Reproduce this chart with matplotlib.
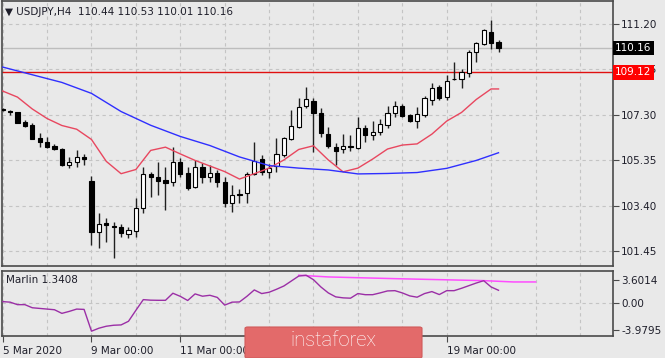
import matplotlib
matplotlib.use("Agg")
import matplotlib.pyplot as plt
from matplotlib.patches import FancyBboxPatch
import matplotlib.transforms as mtrans

# H4 candles, 5 Mar 2020 00:00 onwards
opens = [107.55, 107.48, 107.41, 106.98, 106.86, 106.32, 106.14, 105.97, 105.82, 105.14,
         105.29, 105.50, 104.46, 102.28, 102.67, 102.52, 102.49, 102.18, 102.31, 103.28,
         104.74, 104.62, 104.50, 104.40, 105.29, 104.81, 104.19, 105.05, 104.62, 104.79,
         104.43, 103.50, 103.88, 103.93, 104.74, 105.40, 104.86, 105.11, 105.57, 106.25,
         106.79, 107.68, 107.89, 107.36, 106.46, 105.93, 105.83, 105.96, 105.86, 106.72,
         106.43, 106.57, 106.86, 107.36, 107.69, 107.29, 107.05, 107.29, 107.94, 108.48,
         108.08, 108.85, 108.84, 109.11, 109.98, 110.34, 110.87, 110.44]
highs = [107.60, 107.51, 107.43, 107.08, 106.93, 106.52, 106.36, 106.03, 105.86, 105.49,
         105.79, 105.60, 104.67, 103.07, 102.87, 102.70, 102.60, 102.49, 103.71, 105.07,
         104.86, 105.26, 105.05, 105.93, 105.43, 105.07, 105.36, 105.22, 105.14, 104.93,
         104.64, 104.28, 104.11, 104.86, 106.14, 105.57, 105.17, 106.29, 106.36, 107.51,
         108.01, 108.51, 108.01, 107.58, 106.79, 106.08, 106.46, 106.43, 107.22, 106.86,
         107.03, 107.12, 107.69, 107.89, 107.75, 107.33, 107.65, 108.11, 108.65, 108.58,
         109.01, 109.57, 109.25, 110.08, 110.44, 110.99, 111.37, 110.53]
lows = [107.46, 107.29, 106.94, 106.79, 106.25, 105.93, 105.86, 105.79, 105.11, 105.00,
        105.07, 105.14, 101.71, 101.59, 101.85, 101.14, 102.06, 101.99, 102.04, 103.07,
        103.78, 103.86, 103.21, 104.24, 104.64, 104.07, 104.14, 104.36, 104.43, 104.21,
        103.33, 103.14, 103.50, 103.50, 104.71, 104.71, 104.57, 104.86, 105.50, 106.22,
        106.72, 107.58, 105.72, 106.36, 105.86, 105.14, 105.65, 105.75, 105.83, 106.14,
        106.22, 106.43, 106.72, 107.22, 107.22, 106.98, 106.72, 107.22, 107.72, 107.94,
        107.94, 108.80, 108.44, 108.94, 109.58, 110.30, 110.11, 110.01]
closes = [107.52, 107.43, 106.96, 106.83, 106.27, 106.14, 105.93, 105.83, 105.14, 105.29,
          105.50, 105.40, 102.28, 102.60, 102.57, 102.47, 102.21, 102.35, 103.28, 104.74,
          104.62, 104.47, 104.36, 105.29, 104.74, 104.14, 105.05, 104.62, 104.79, 104.43,
          103.50, 103.86, 103.85, 104.74, 105.32, 104.86, 105.03, 105.60, 106.29, 106.83,
          107.65, 107.97, 107.36, 106.51, 105.96, 105.75, 105.96, 105.92, 106.72, 106.43,
          106.55, 106.89, 107.39, 107.68, 107.26, 107.03, 107.33, 108.01, 108.44, 108.03,
          108.76, 108.82, 109.12, 110.01, 110.37, 110.94, 110.40, 110.16]

# moving averages
red_ma_idx = list(range(0, 67, 2)) + [67]
red_ma = [108.32, 108.06, 107.55, 107.14, 106.84, 106.68, 106.24, 105.30, 104.77, 104.95,
          105.77, 105.91, 105.62, 105.34, 105.10, 104.86, 104.54, 104.77, 105.01, 105.36,
          105.81, 105.97, 105.36, 104.85, 105.01, 105.40, 105.83, 106.00, 106.05, 106.47,
          107.03, 107.40, 107.96, 108.41, 108.41]
blue_ma_idx = list(range(0, 65, 4)) + [67]
blue_ma = [109.35, 109.02, 108.69, 108.22, 107.44, 106.85, 106.37, 105.98, 105.49, 105.12,
           105.01, 104.93, 104.76, 104.78, 104.82, 105.00, 105.34, 105.67]

# Marlin oscillator
marlin = [0.28, 0.2, -0.18, -0.18, -0.65, -0.75, -0.85, -0.95, -1.5, -1.2,
          -0.85, -0.9, -4.2, -3.75, -3.45, -3.3, -3.25, -2.7, -1.04, 0.58,
          0.5, 0.48, 0.48, 1.55, 1.08, 0.45, 1.45, 1.1, 1.24, 0.92,
          -0.25, 0.2, 0.23, 1.08, 2.05, 1.5, 1.7, 2.15, 2.65, 3.4,
          4.15, 4.28, 3.6, 2.5, 1.6, 1.0, 0.85, 0.8, 1.5, 1.33,
          1.33, 1.6, 1.9, 1.94, 1.6, 1.15, 0.95, 1.5, 1.8, 1.35,
          1.94, 1.94, 2.3, 2.7, 3.1, 3.45, 2.5, 2.0]
signal_idx = [40, 44, 53, 59, 65, 69, 72]
signal = [4.28, 4.02, 3.76, 3.61, 3.46, 3.26, 3.26]

price_ticks = [111.20, 109.25, 107.30, 105.35, 103.40, 101.45]
osc_ticks = [3.6014, 0.00, -3.9795]
osc_labels = ["3.6014", "0.00", "-3.9795"]
date_idx = [0, 12, 24, 36, 48, 60]
# 13 Mar and 17 Mar labels sit under the watermark in the original
date_labels = ["5 Mar 2020", "9 Mar 00:00", "11 Mar 00:00", "", "", "19 Mar 00:00"]
last_price = 110.16
level = 109.12

W, H = 665, 358
BG = "#e9e9e9"
FRAME = "#4a4a4a"
TXT = "#1e1e2a"
GRID = "#c4c4c4"
plt.rcParams["font.family"] = ["DejaVu Sans"]


def box(x0, y0, x1, y1):
    return [x0 / W, 1 - y1 / H, (x1 - x0) / W, (y1 - y0) / H]


fig = plt.figure(figsize=(W / 100, H / 100), dpi=100, facecolor=BG)
ax = fig.add_axes(box(2.3, 1, 612.7, 266))
ax2 = fig.add_axes(box(2.3, 271, 612.7, 336), sharex=ax)

for a in (ax, ax2):
    a.set_facecolor(BG)
    for s in a.spines.values():
        s.set_color(FRAME)
        s.set_linewidth(1.2)
    for g in range(0, 84, 6):
        a.axvline(g, color=GRID, lw=0.8, ls=(0, (3, 3)), zorder=0)

# candles
n = len(opens)
idx = list(range(n))
ax.vlines(idx, lows, highs, color="#202020", lw=1, zorder=2)
bottoms = [min(o, c) for o, c in zip(opens, closes)]
heights = [max(abs(c - o), 0.015) for o, c in zip(opens, closes)]
colors = ["white" if c >= o else "black" for o, c in zip(opens, closes)]
ax.bar(idx, heights, bottom=bottoms, width=0.58, color=colors,
       edgecolor="black", linewidth=0.8, zorder=3)

ax.plot(red_ma_idx, red_ma, color="#e8475f", lw=1.0, zorder=4)
ax.plot(blue_ma_idx, blue_ma, color="#2f2fff", lw=1.0, zorder=4)

ax.axhline(last_price, color="#bdbdbd", lw=1, zorder=1)
ax.axhline(level, color="#e01010", lw=1, zorder=1)
for p in price_ticks:
    ax.axhline(p, color=GRID, lw=0.8, ls=(0, (3, 3)), zorder=0)

ax.set_xlim(-0.05, 82.43)
ax.set_ylim(100.805, 112.188)
ax.yaxis.tick_right()
ax.set_yticks(price_ticks)
ax.set_yticklabels([f"{p:.2f}" for p in price_ticks])
ax.tick_params(axis="y", direction="out", length=4, width=0.8, color=FRAME,
               labelsize=7.5, labelcolor=TXT, pad=2)
ax.tick_params(axis="x", bottom=False, labelbottom=False)

blend = mtrans.blended_transform_factory(ax.transAxes, ax.transData)
ax.text(1.004, last_price, "110.16", transform=blend, ha="left", va="center",
        fontsize=7.5, color="white", zorder=6,
        bbox=dict(boxstyle="square,pad=0.2", fc="black", ec="none"))
ax.text(1.004, level, "109.12", transform=blend, ha="left", va="center",
        fontsize=7.5, color="white", zorder=6,
        bbox=dict(boxstyle="square,pad=0.2", fc="#ff0000", ec="none"))

# oscillator panel
ax2.axhline(0, color=GRID, lw=0.8, ls=(0, (3, 3)), zorder=0)
ax2.plot(idx, marlin, color="#9b2fa6", lw=1.0, zorder=3)
ax2.plot(signal_idx, signal, color="#ff4cff", lw=1.1, zorder=2)
ax2.set_ylim(-4.93, 4.92)
ax2.yaxis.tick_right()
ax2.set_yticks(osc_ticks)
ax2.set_yticklabels(osc_labels)
ax2.tick_params(axis="y", direction="out", length=4, width=0.8, color=FRAME,
                labelsize=7.5, labelcolor=TXT, pad=2)
ax2.set_xticks(date_idx)
ax2.set_xticklabels(date_labels)
ax2.tick_params(axis="x", direction="out", length=4, width=0.8, color=FRAME,
                labelsize=7.5, labelcolor=TXT, pad=3)
for lab in ax2.get_xticklabels():
    lab.set_ha("left")

fig.text(5 / W, 1 - 12 / H, "\u25bc USDJPY,H4  110.44 110.53 110.01 110.16",
         fontsize=7.5, color=TXT, va="center", ha="left")
fig.text(6 / W, 1 - 280 / H, "Marlin 1.3408", fontsize=7.5, color=TXT,
         va="center", ha="left")

# watermark
wm = FancyBboxPatch((245 / W, 0.0), 177 / W, 31 / H,
                    boxstyle="round,pad=0,rounding_size=0.004",
                    transform=fig.transFigure, fc="#e36a6a", ec="#d05a5a",
                    lw=0.8, zorder=10)
fig.patches.append(wm)
fig.text(333 / W, 1 - 341 / H, "instaforex", fontsize=14.5, color="white",
         family="Roboto", weight="light", ha="center", va="center", zorder=11)

fig.savefig("out.png", dpi=100, facecolor=BG)
